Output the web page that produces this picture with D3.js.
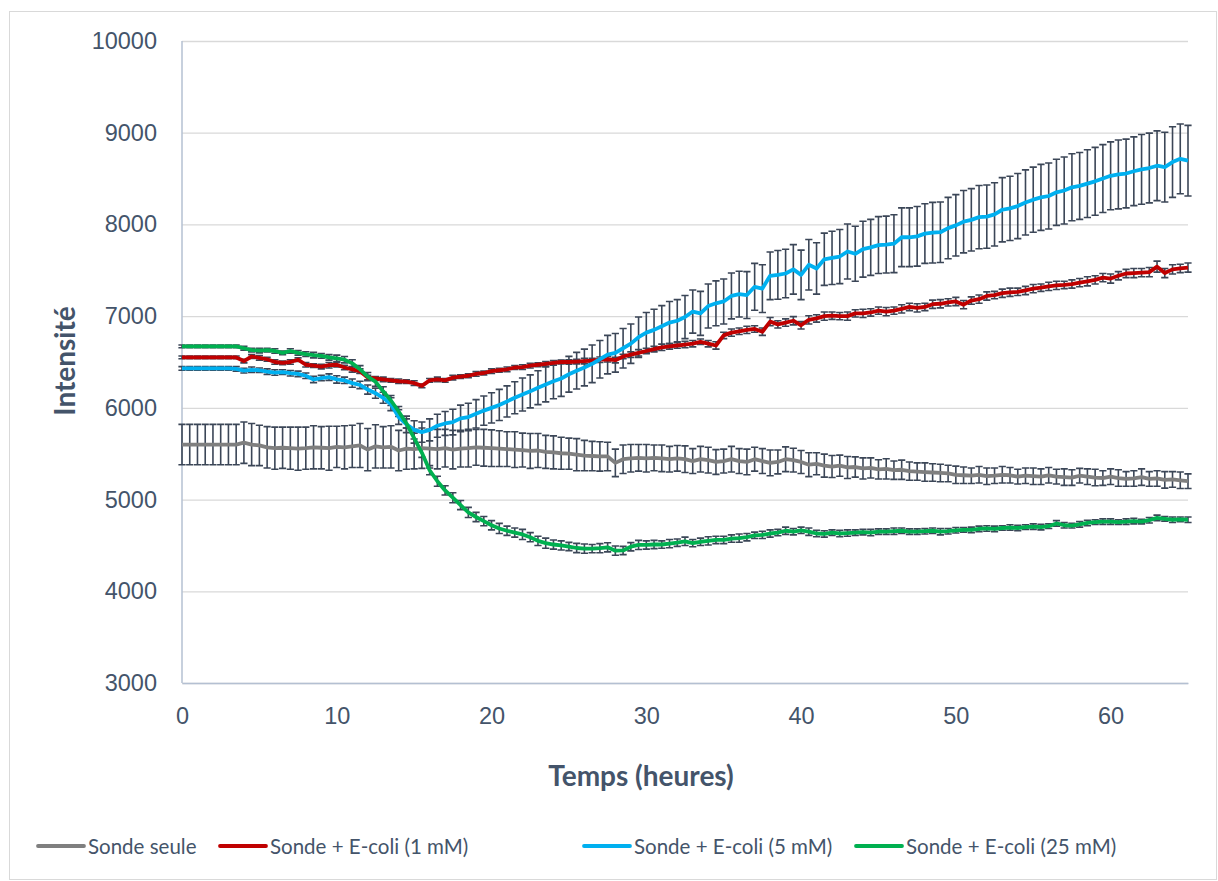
<!DOCTYPE html>
<html>
<head>
<meta charset="utf-8">
<script src="https://cdn.jsdelivr.net/npm/d3@7"></script>
<style>
  body { margin: 0; background: #fff; }
  svg { display: block; font-family: Lato, "Open Sans", sans-serif; }
</style>
</head>
<body>
<svg width="1218" height="881"></svg>
<script>
// mesures toutes les 30 min, de 0 a 65 h
var hours = d3.range(0, 65.01, 0.5);

var seriesNames = ["Sonde seule", "Sonde + E-coli (1 mM)", "Sonde + E-coli (5 mM)", "Sonde + E-coli (25 mM)"];
var seriesColors = ["#7F7F7F", "#C00000", "#00B0F0", "#00B050"];

var sondeSeule = [
  5600,5600,5600,5600,5600,5600,5600,5600, 5620,5600,5590,5570,5560,5565,5560,5555,
  5560,5570,5565,5560,5575,5570,5580,5590, 5545,5580,5570,5575,5535,5555,5550,5560,
  5555,5550,5560,5545,5555,5560,5570,5565, 5560,5555,5550,5545,5540,5530,5535,5520,
  5515,5505,5500,5490,5480,5475,5470,5470, 5400,5440,5450,5455,5450,5455,5450,5440,
  5450,5440,5420,5440,5430,5410,5420,5440, 5420,5410,5440,5420,5400,5410,5440,5430,
  5410,5380,5390,5370,5360,5370,5350,5355, 5340,5345,5330,5335,5320,5325,5310,5305,
  5300,5295,5290,5285,5270,5265,5260,5270, 5255,5260,5270,5265,5250,5260,5255,5250,
  5265,5250,5245,5240,5260,5250,5240,5235, 5250,5235,5225,5230,5245,5225,5230,5215,
  5220,5210,5200
];
var sondeSeuleErr = [
  220,220,220,220,220,220,220,220, 225,230,220,225,230,225,230,235,
  230,235,230,240,225,235,230,240, 230,235,225,230,220,225,215,220,
  210,215,205,210,200,205,195,200, 200,195,190,195,185,190,185,180,
  180,175,170,175,165,160,160,155, 150,155,150,145,150,140,145,140,
  140,145,135,140,140,135,130,140, 135,140,130,135,140,130,135,130,
  125,130,120,125,120,115,120,110, 115,110,105,110,100,105,100,95,
  100,95,95,90,95,90,85,90, 90,85,90,85,80,85,90,85,
  85,80,90,85,80,85,90,80, 85,90,80,85,90,80,85,90,
  85,90,80
];

var ecoli1 = [
  6550,6550,6550,6550,6550,6550,6550,6550, 6510,6560,6545,6530,6500,6490,6500,6525,
  6470,6460,6450,6465,6470,6440,6420,6400, 6330,6320,6310,6300,6290,6285,6270,6240,
  6300,6310,6300,6330,6340,6350,6370,6380, 6400,6410,6420,6440,6445,6460,6470,6480,
  6490,6500,6500,6505,6510,6515,6525,6530, 6520,6560,6580,6600,6620,6640,6660,6670,
  6680,6690,6700,6720,6700,6680,6790,6820, 6835,6850,6860,6830,6940,6910,6930,6950,
  6900,6960,6975,7000,7005,7000,7000,7030, 7030,7040,7060,7050,7060,7080,7100,7090,
  7100,7130,7135,7150,7160,7125,7170,7185, 7220,7230,7250,7260,7265,7280,7300,7310,
  7325,7335,7340,7350,7365,7380,7395,7420, 7410,7440,7465,7470,7475,7480,7540,7470,
  7510,7520,7530
];
var ecoli1Err = [
  15,15,15,15,15,15,15,15, 20,20,25,20,25,20,25,20,
  25,20,25,30,25,25,30,25, 25,20,25,20,25,20,25,20,
  20,25,20,25,20,20,25,20, 25,20,25,20,25,25,20,25,
  25,20,25,25,30,25,30,30, 30,25,30,35,30,30,35,30,
  30,35,35,30,35,40,35,40, 35,40,35,40,45,40,40,45,
  40,45,40,45,40,40,45,40, 45,40,40,45,40,45,40,45,
  40,45,45,40,45,45,40,45, 45,40,45,45,40,45,45,40,
  45,45,40,45,45,50,45,45, 50,45,45,50,45,50,60,50,
  50,45,50
];

var ecoli5 = [
  6430,6430,6430,6430,6430,6430,6430,6425, 6405,6415,6410,6395,6385,6390,6378,6370,
  6350,6310,6325,6335,6310,6300,6270,6250, 6200,6160,6110,6040,5900,5820,5760,5735,
  5760,5805,5830,5845,5885,5900,5935,5970, 6000,6032,6070,6110,6145,6180,6220,6255,
  6290,6320,6366,6405,6440,6480,6530,6580, 6600,6650,6700,6770,6820,6850,6890,6930,
  6950,6990,7050,7030,7110,7140,7160,7220, 7240,7230,7320,7300,7440,7450,7465,7510,
  7450,7560,7520,7620,7635,7650,7705,7680, 7730,7750,7775,7780,7790,7860,7860,7870,
  7900,7910,7915,7960,7990,8030,8050,8080, 8085,8110,8160,8175,8200,8240,8270,8295,
  8310,8350,8370,8405,8420,8445,8470,8500, 8530,8545,8555,8580,8600,8615,8640,8625,
  8680,8715,8695
];
var ecoli5Err = [
  20,20,20,20,20,20,20,25, 25,30,25,30,30,25,30,30,
  30,35,30,35,40,35,45,40, 50,55,60,70,80,90,100,110,
  120,125,130,140,145,150,155,160, 165,170,170,175,180,180,185,190,
  190,195,195,200,200,205,205,210, 210,215,215,220,220,225,225,230,
  230,235,235,240,240,245,245,250, 250,255,255,260,260,265,265,270,
  270,275,280,285,290,295,300,300, 305,305,310,310,315,320,320,325,
  325,330,330,335,335,340,340,345, 345,345,350,350,355,355,355,360,
  360,360,365,365,365,370,370,370, 370,375,375,375,380,380,380,380,
  385,380,385
];

var ecoli25 = [
  6670,6670,6670,6670,6670,6670,6670,6670, 6650,6630,6625,6630,6620,6600,6620,6600,
  6586,6575,6566,6550,6540,6525,6485,6420, 6340,6286,6180,6080,5960,5830,5670,5510,
  5320,5200,5100,5020,4940,4860,4810,4765, 4720,4685,4660,4640,4620,4590,4550,4525,
  4510,4500,4488,4472,4465,4465,4470,4480, 4443,4445,4486,4505,4505,4510,4510,4520,
  4530,4545,4525,4540,4550,4560,4560,4575, 4580,4590,4610,4615,4630,4640,4660,4650,
  4665,4650,4630,4625,4640,4630,4635,4640, 4645,4640,4650,4650,4655,4660,4650,4650,
  4655,4660,4650,4655,4665,4670,4670,4680, 4685,4680,4690,4695,4690,4700,4705,4700,
  4710,4740,4720,4715,4730,4745,4755,4760, 4760,4755,4760,4765,4760,4775,4800,4790,
  4780,4785,4780
];
var ecoli25Err = [
  15,15,15,15,15,15,15,15, 20,20,25,20,25,20,25,25,
  25,30,25,30,35,35,40,40, 45,50,50,55,55,50,55,50,
  50,55,50,55,50,55,50,50, 50,55,50,50,55,50,50,55,
  50,50,45,50,50,45,50,50, 50,45,45,50,45,45,40,45,
  40,45,40,40,45,40,40,40, 45,40,35,40,40,35,40,35,
  35,40,35,35,30,35,35,30, 30,35,30,30,35,30,30,30,
  30,30,35,30,30,25,30,30, 30,30,25,30,30,25,30,30,
  25,30,30,25,30,30,25,30, 30,25,30,30,25,30,30,25,
  30,25,30
];

var xTicks = [0, 10, 20, 30, 40, 50, 60];
var yTicks = [3000, 4000, 5000, 6000, 7000, 8000, 9000, 10000];

var allValues = [sondeSeule, ecoli1, ecoli5, ecoli25];
var allErrors = [sondeSeuleErr, ecoli1Err, ecoli5Err, ecoli25Err];

var series = seriesNames.map(function(name, k) {
  return {
    name: name,
    color: seriesColors[k],
    points: hours.map(function(h, i) {
      return {t: h, v: allValues[k][i], e: allErrors[k][i]};
    })
  };
});

var svg = d3.select("svg"),
    margin = {top: 41, right: 30, bottom: 198, left: 182},
    width = 1188 - margin.left,
    height = 683 - margin.top;

var textColor = "#44546A";

// cadre du graphique
svg.append("rect")
    .attr("x", 9.5).attr("y", 11.5)
    .attr("width", 1207).attr("height", 868)
    .attr("fill", "none")
    .attr("stroke", "#D9D9D9");

var x = d3.scaleLinear().domain([0, 65]).range([0, width]);
var y = d3.scaleLinear().domain([3000, 10000]).range([height, 0]);

var g = svg.append("g")
    .attr("transform", "translate(" + margin.left + "," + margin.top + ")");

// grille horizontale + etiquettes Y
var yAxis = g.append("g")
    .attr("class", "axis axis--y")
    .call(d3.axisLeft(y).tickValues(yTicks).tickSize(-width).tickPadding(25).tickFormat(d3.format("d")));
yAxis.select(".domain").remove();
yAxis.selectAll(".tick line").attr("stroke", "#D9D9D9").attr("stroke-width", 1.3);
yAxis.selectAll(".tick text")
    .attr("fill", textColor)
    .style("font-size", "23.5px");

// axe X
var xAxis = g.append("g")
    .attr("class", "axis axis--x")
    .attr("transform", "translate(0," + height + ")")
    .call(d3.axisBottom(x).tickValues(xTicks).tickSize(0).tickPadding(24));
xAxis.select(".domain").attr("stroke", "#B4C0D2").attr("stroke-width", 1.5);
xAxis.selectAll(".tick text")
    .attr("fill", textColor)
    .style("font-size", "23.5px");

// axe Y (ligne)
g.append("line")
    .attr("x1", 0).attr("x2", 0)
    .attr("y1", 0).attr("y2", height)
    .attr("stroke", "#B4C0D2")
    .attr("stroke-width", 1.5);

// barres d'erreur
var cap = 3.6;
series.forEach(function(s) {
  var eb = g.append("g").attr("class", "errbars")
      .attr("stroke", "#3B4657")
      .attr("stroke-width", 1.6)
      .attr("fill", "none");
  eb.selectAll("path")
    .data(s.points)
    .enter().append("path")
      .attr("d", function(d) {
        var px = x(d.t), y0 = y(d.v + d.e), y1 = y(d.v - d.e);
        return "M" + px + "," + y0 + "V" + y1 +
               "M" + (px - cap) + "," + y0 + "H" + (px + cap) +
               "M" + (px - cap) + "," + y1 + "H" + (px + cap);
      });
});

// courbes
var line = d3.line()
    .x(function(d) { return x(d.t); })
    .y(function(d) { return y(d.v); });

series.forEach(function(s) {
  g.append("path")
      .datum(s.points)
      .attr("class", "line")
      .attr("fill", "none")
      .attr("stroke", s.color)
      .attr("stroke-width", 3.8)
      .attr("stroke-linejoin", "round")
      .attr("d", line);
});

// titres des axes
svg.append("text")
    .attr("x", 641).attr("y", 786)
    .attr("text-anchor", "middle")
    .attr("fill", textColor)
    .style("font-size", "28px")
    .style("font-weight", "bold")
    .text("Temps (heures)");

svg.append("text")
    .attr("transform", "translate(75,361) rotate(-90)")
    .attr("text-anchor", "middle")
    .attr("fill", textColor)
    .style("font-size", "28px")
    .style("font-weight", "bold")
    .text("Intensité");

// legende
var legendX = [38, 220, 584, 856];
var legend = svg.append("g").attr("class", "legend");
series.forEach(function(s, k) {
  var lg = legend.append("g").attr("transform", "translate(" + legendX[k] + ",846)");
  lg.append("line")
      .attr("x1", 0).attr("x2", 46)
      .attr("y1", 0).attr("y2", 0)
      .attr("stroke", s.color)
      .attr("stroke-width", 3.8)
      .attr("stroke-linecap", "round");
  lg.append("text")
      .attr("x", 50).attr("y", 7.5)
      .attr("fill", textColor)
      .style("font-size", "20.5px")
      .text(s.name);
});
</script>
</body>
</html>
